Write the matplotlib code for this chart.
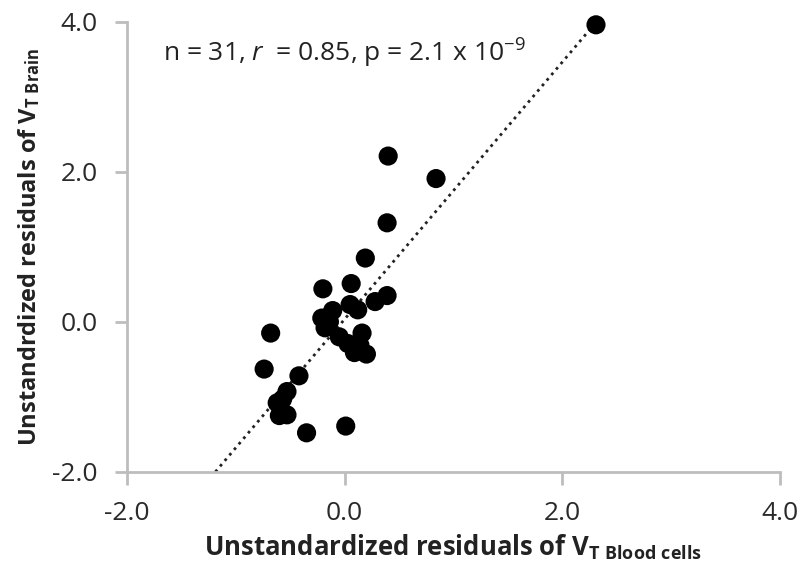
import numpy as np
import matplotlib
matplotlib.use('Agg')
import matplotlib.pyplot as plt

plt.rcParams['font.family'] = ['Open Sans', 'DejaVu Sans']
plt.rcParams['mathtext.fontset'] = 'custom'
plt.rcParams['mathtext.rm'] = 'Open Sans'
plt.rcParams['mathtext.it'] = 'Open Sans:italic'
plt.rcParams['mathtext.bf'] = 'Open Sans:bold'

# residuals
resid_blood = [2.31, 0.40, 0.84, 0.39, 0.19, -0.20, 0.06, 0.39, 0.28, 0.05,
               -0.11, -0.21, -0.18, -0.05, 0.16, -0.68, 0.09, 0.20, -0.74, -0.42,
               -0.53, -0.62, -0.53, -0.60, -0.35, 0.01, -0.14, 0.03, 0.14, 0.12,
               -0.57]
resid_brain = [3.96, 2.21, 1.91, 1.32, 0.85, 0.44, 0.51, 0.35, 0.27, 0.23,
               0.15, 0.05, -0.08, -0.20, -0.15, -0.15, -0.41, -0.43, -0.63, -0.72,
               -0.93, -1.08, -1.24, -1.25, -1.48, -1.39, 0.00, -0.29, -0.31, 0.16,
               -1.03]
ticks = [-2.0, 0.0, 2.0, 4.0]

x = np.array(resid_blood)
y = np.array(resid_brain)

fig = plt.figure(figsize=(8.04, 5.74), dpi=100)
ax = fig.add_axes([0.158, 0.178, 0.812, 0.784])

ax.scatter(x, y, s=190, c='black', edgecolors='none', zorder=3, clip_on=False)

# fitted line, clipped to the plot area
slope, icpt = np.polyfit(x, y, 1)
x0 = (-2.0 - icpt) / slope
x1 = x.max()
ax.plot([x0, x1], [slope * x0 + icpt, slope * x1 + icpt], ls=(0, (1, 1.6)),
        color='#222222', lw=2, zorder=2, clip_on=False)

ax.set_xlim(-2, 4)
ax.set_ylim(-2, 4)
ax.set_xticks(ticks)
ax.set_yticks(ticks)
ax.set_xticklabels([f'{t:.1f}' for t in ticks])
ax.set_yticklabels([f'{t:.1f}' for t in ticks])

for side in ['top', 'right']:
    ax.spines[side].set_visible(False)
for side in ['left', 'bottom']:
    ax.spines[side].set_color('#bdbdbd')
    ax.spines[side].set_linewidth(2)
ax.tick_params(colors='#bdbdbd', width=2, length=9, labelsize=19,
               labelcolor='#2a2a2a')
ax.tick_params(axis='x', pad=12)
ax.tick_params(axis='y', pad=12)

ax.set_xlabel(r'Unstandardized residuals of V$_{\mathbf{T\ Blood\ cells}}$',
              fontsize=18.5, fontweight='bold', color='#222222')
ax.xaxis.set_label_coords(0.5, -0.135)
ax.set_ylabel(r'Unstandrdized residuals of V$_{\mathbf{T\ Brain}}$',
              fontsize=17, fontweight='bold', color='#222222')
ax.yaxis.set_label_coords(-0.13, 0.5)

ax.text(0.055, 0.93, r'n = 31, $\mathit{r}$  = 0.85, p = 2.1 x 10$^{\mathregular{-9}}$',
        transform=ax.transAxes, fontsize=19, color='#222222', va='center')

fig.savefig('out.png', dpi=100)
